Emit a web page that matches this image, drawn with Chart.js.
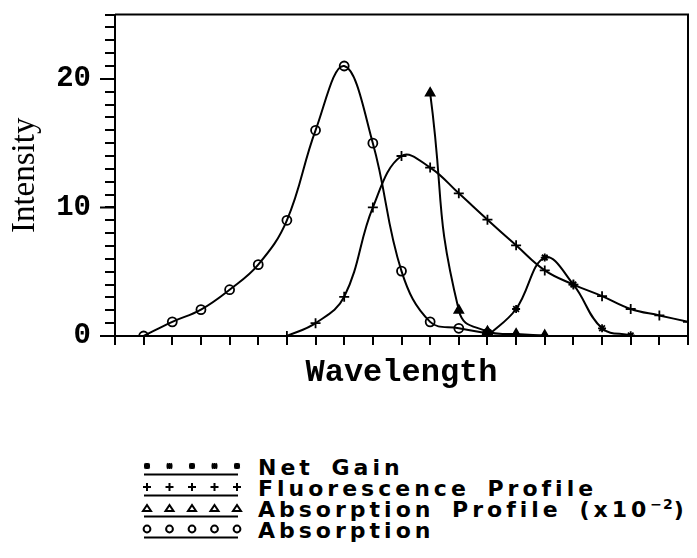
<!DOCTYPE html>
<html>
<head>
<meta charset="utf-8">
<script src="https://cdn.jsdelivr.net/npm/chart.js@4.4.1/dist/chart.umd.min.js"></script>
<style>
  body { margin: 0; background: #fff; }
  #wrap { position: relative; width: 697px; height: 558px; background: #fff; }
  #chart { position: absolute; left: 0; top: 0; }
  .legend { position: absolute; left: 140px; top: 457px; }
  .legend__row { height: 21px; display: flex; align-items: center; }
  .legend__row svg { width: 112px; height: 21px; flex: none; }
  .legend__text { font-family: "DejaVu Sans", sans-serif; font-weight: bold; font-size: 22px; letter-spacing: 4px; word-spacing: 6px; color: #000; line-height: 21px; margin-left: 6px; white-space: nowrap; }
  .legend__text sup { font-size: 14px; line-height: 0; letter-spacing: 1px; }
</style>
</head>
<body>
<div id="wrap">
  <canvas id="chart" width="697" height="400"></canvas>
  <div class="legend" id="legend"></div>
</div>
<script>
    // absorption (circles)
    const absX = [1, 2, 3, 4, 5, 6, 7, 8, 9, 10, 11, 12, 13];
    const absY = [0, 1.1, 2.05, 3.6, 5.55, 9, 16, 21, 15, 5.05, 1.1, 0.6, 0.2];

    // fluorescence profile (crosses)
    const fluX = [6, 7, 8, 9, 10, 11, 12, 13, 14, 15, 16, 17, 18, 19, 20];
    const fluY = [0, 1, 3.05, 10, 14, 13.1, 11.1, 9.05, 7.05, 5.1, 4, 3.1, 2.1, 1.6, 1.1];

    // absorption profile x10^-2 (triangles)
    const apX = [11, 12, 13, 14, 15];
    const apY = [18.9, 2, 0.35, 0.15, 0.05];

    // net gain (stars)
    const ngX = [13, 14, 15, 16, 17, 18];
    const ngY = [0, 2.1, 6.1, 4, 0.6, 0.05];

    const yLabels = [0, 10, 20];

    const legendNames = ["Net Gain", "Fluorescence Profile", "Absorption Profile (x10<sup>\u22122</sup>)", "Absorption"];
    const legendMarks = ["star", "cross", "triangle", "circle"];

function pts(xs, ys) {
    return xs.map((x, i) => ({x: x, y: ys[i]}));
}

function lineSet(label, xs, ys, style, fill, r, tension) {
    return {
        label: label,
        data: pts(xs, ys),
        borderColor: "#000",
        borderWidth: 2,
        tension: tension,
        fill: false,
        pointStyle: style,
        pointRadius: r,
        pointBorderColor: "#000",
        pointBackgroundColor: fill,
        pointBorderWidth: 1.8
    };
}

// top and right frame lines, plus the longer major ticks on y
const frame = {
    id: "frame",
    afterDraw(chart) {
        const a = chart.chartArea;
        const c = chart.ctx;
        const y = chart.scales.y;
        c.save();
        c.strokeStyle = "#000";
        c.lineWidth = 2;
        c.beginPath();
        c.moveTo(a.left, a.top);
        c.lineTo(a.right, a.top);
        c.lineTo(a.right, a.bottom);
        yLabels.forEach(v => {
            const py = y.getPixelForValue(v);
            c.moveTo(a.left - 15, py);
            c.lineTo(a.left, py);
        });
        c.stroke();
        c.restore();
    }
};

function yTickFont(c) {
    let big = c.tick && yLabels.includes(c.tick.value);
    return { family: "Liberation Mono", size: big ? 29 : 1, weight: "bold" };
}

const ctx = document.getElementById("chart").getContext("2d");

const chart = new Chart(ctx, {
    type: "line",
    data: {
        datasets: [
            lineSet("Absorption", absX, absY, "circle", "rgba(0,0,0,0)", 4.5, 0.4),
            lineSet("Fluorescence Profile", fluX, fluY, "cross", "#000", 5, 0.4),
            lineSet("Absorption Profile (x10^-2)", apX, apY, "triangle", "#000", 5, 0.5),
            lineSet("Net Gain", ngX, ngY, "star", "#000", 4, 0.4)
        ]
    },
    options: {
        responsive: false,
        animation: false,
        layout: { padding: { top: 14, right: 9, left: 0, bottom: 0 } },
        plugins: {
            legend: { display: false },
            tooltip: { enabled: false }
        },
        scales: {
            x: {
                type: "linear",
                min: 0,
                max: 20,
                ticks: { stepSize: 1, autoSkip: false, callback: () => "", font: { size: 1 } },
                grid: { drawOnChartArea: false, tickLength: 9, color: "#000", lineWidth: 2 },
                border: { display: true, color: "#000", width: 2 },
                title: {
                    display: true,
                    text: "Wavelength",
                    color: "#000",
                    font: { family: "Liberation Mono", size: 32, weight: "bold" },
                    padding: { top: 0, bottom: 8 }
                },
                afterFit(scale) { scale.height = 64; }
            },
            y: {
                min: 0,
                max: 25,
                ticks: {
                    stepSize: 1,
                    autoSkip: false,
                    padding: 14,
                    color: "#000",
                    font: yTickFont,
                    callback: v => yLabels.includes(v) ? String(v) : ""
                },
                grid: { drawOnChartArea: false, tickLength: 10, color: "#000", lineWidth: 2 },
                border: { display: true, color: "#000", width: 2 },
                title: {
                    display: true,
                    text: "Intensity",
                    color: "#000",
                    font: { family: "Liberation Serif", size: 33 },
                    padding: { top: 6, bottom: 0 }
                },
                afterFit(scale) { scale.width = 115; }
            }
        }
    },
    plugins: [frame]
});

// legend below the chart, markers drawn as small svg
function markSvg(kind) {
    let s = '<svg viewBox="0 0 112 21">';
    for (let i = 0; i < 5; i++) {
        const cx = 7 + i * 22.5;
        const cy = 9;
        if (kind == "star") {
            s += `<g stroke="#000" stroke-width="2"><line x1="${cx-3}" y1="${cy}" x2="${cx+3}" y2="${cy}"/><line x1="${cx}" y1="${cy-3}" x2="${cx}" y2="${cy+3}"/><line x1="${cx-2.5}" y1="${cy-2.5}" x2="${cx+2.5}" y2="${cy+2.5}"/><line x1="${cx-2.5}" y1="${cy+2.5}" x2="${cx+2.5}" y2="${cy-2.5}"/></g>`;
        } else if (kind == "cross") {
            s += `<g stroke="#000" stroke-width="2"><line x1="${cx-4}" y1="${cy}" x2="${cx+4}" y2="${cy}"/><line x1="${cx}" y1="${cy-4}" x2="${cx}" y2="${cy+4}"/></g>`;
        } else if (kind == "triangle") {
            s += `<polygon points="${cx-4},${cy+3} ${cx+4},${cy+3} ${cx},${cy-3}" fill="none" stroke="#000" stroke-width="2"/>`;
        } else {
            s += `<circle cx="${cx}" cy="${cy}" r="3.4" fill="none" stroke="#000" stroke-width="2"/>`;
        }
    }
    s += '<line x1="4" y1="17.5" x2="98" y2="17.5" stroke="#000" stroke-width="2"/></svg>';
    return s;
}

const legendBox = document.getElementById("legend");
legendNames.forEach((name, i) => {
    const row = document.createElement("div");
    row.className = "legend__row";
    row.innerHTML = markSvg(legendMarks[i]) + '<span class="legend__text">' + name + '</span>';
    legendBox.appendChild(row);
});
</script>
</body>
</html>
